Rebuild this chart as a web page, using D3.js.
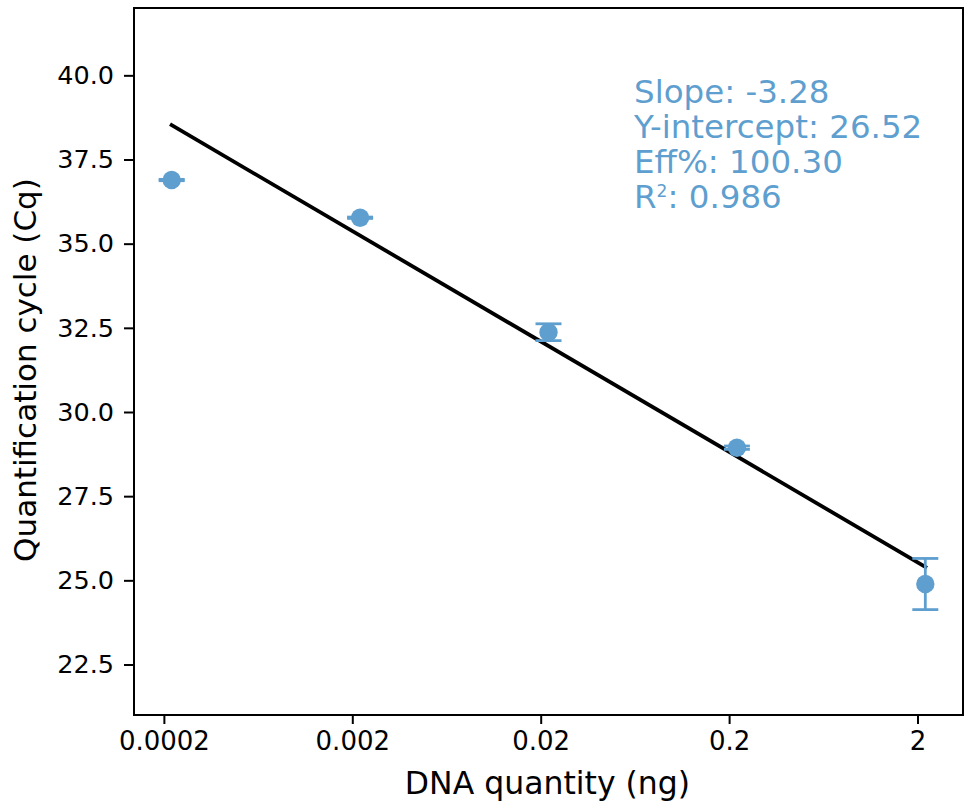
<!DOCTYPE html>
<html>
<head>
<meta charset="utf-8">
<script src="https://cdn.jsdelivr.net/npm/d3@7"></script>
<style>
  html, body { margin: 0; padding: 0; background: #fff; }
  svg { display: block; font-family: "DejaVu Sans", sans-serif; }
</style>
</head>
<body>
<svg id="chart" width="966" height="806"></svg>
<script>
// ---- data ----
const tickValues = [0.0002, 0.002, 0.02, 0.2, 2];
const tickLabels = ["0.0002", "0.002", "0.02", "0.2", "2"];
const quantities = [0.00022, 0.0022, 0.022, 0.22, 2.2];
const cqMeans = [36.89, 35.77, 32.37, 28.94, 24.89];
const cqErrors = [0.02, 0.02, 0.25, 0.05, 0.76];
const fitX = [0.00022, 2.2];
const fitY = [38.52, 25.40];
const yTicks = [22.5, 25.0, 27.5, 30.0, 32.5, 35.0, 37.5, 40.0];
const annotationLines = ["Slope: -3.28", "Y-intercept: 26.52", "Eff%: 100.30"];
const r2Value = "0.986";

// ---- layout ----
const pL = 134, pR = 963, pT = 8, pB = 715;
const blue = "#5f9fcf";
const svg = d3.select("#chart");

const x = d3.scaleLog()
  .domain([0.00022 / Math.pow(10, 0.2), 2.2 * Math.pow(10, 0.2)])
  .range([pL, pR]);
const y = d3.scaleLinear().domain([21, 42]).range([pB, pT]);

// fit line
svg.append("line")
  .attr("x1", x(fitX[0])).attr("y1", y(fitY[0]))
  .attr("x2", x(fitX[1])).attr("y2", y(fitY[1]))
  .attr("stroke", "#000").attr("stroke-width", 3.8)
  .attr("stroke-linecap", "square");

// error bars
const cap = 13;
const eg = svg.append("g").attr("stroke", blue).attr("stroke-width", 2.8);
quantities.forEach((q, i) => {
  const cx = x(q), y1 = y(cqMeans[i] + cqErrors[i]), y2 = y(cqMeans[i] - cqErrors[i]);
  eg.append("line").attr("x1", cx).attr("x2", cx).attr("y1", y1).attr("y2", y2);
  eg.append("line").attr("x1", cx - cap).attr("x2", cx + cap).attr("y1", y1).attr("y2", y1);
  eg.append("line").attr("x1", cx - cap).attr("x2", cx + cap).attr("y1", y2).attr("y2", y2);
});

// points
svg.append("g").selectAll("circle")
  .data(quantities)
  .join("circle")
  .attr("cx", d => x(d))
  .attr("cy", (d, i) => y(cqMeans[i]))
  .attr("r", 9.2)
  .attr("fill", blue);

// axes
const xAxis = d3.axisBottom(x)
  .tickValues(tickValues)
  .tickFormat((d, i) => tickLabels[i])
  .tickSize(9).tickPadding(8);
const gx = svg.append("g").attr("transform", `translate(0,${pB})`).call(xAxis);
gx.select(".domain").remove();
gx.selectAll(".tick line").attr("stroke-width", 2);
gx.selectAll(".tick text").attr("font-size", 26).attr("font-family", "DejaVu Sans").attr("fill", "#000");

const yAxis = d3.axisLeft(y)
  .tickValues(yTicks)
  .tickFormat(d3.format(".1f"))
  .tickSize(10).tickPadding(10);
const gy = svg.append("g").attr("transform", `translate(${pL},0)`).call(yAxis);
gy.select(".domain").remove();
gy.selectAll(".tick line").attr("stroke-width", 2);
gy.selectAll(".tick text").attr("font-size", 25.5).attr("font-family", "DejaVu Sans").attr("fill", "#000");

// frame
svg.append("rect")
  .attr("x", pL).attr("y", pT)
  .attr("width", pR - pL).attr("height", pB - pT)
  .attr("fill", "none").attr("stroke", "#000").attr("stroke-width", 2);

// axis labels
svg.append("text")
  .attr("x", (pL + pR) / 2 - 1).attr("y", 794)
  .attr("text-anchor", "middle")
  .attr("font-size", 31.5)
  .text("DNA quantity (ng)");

svg.append("text")
  .attr("transform", `translate(36,370) rotate(-90)`)
  .attr("text-anchor", "middle")
  .attr("font-size", 31)
  .text("Quantification cycle (Cq)");

// annotation (one multi-line text block)
const ann = svg.append("text")
  .attr("fill", blue).attr("font-size", 32.5)
  .attr("x", 634).attr("y", 103);
annotationLines.forEach((t, i) => {
  ann.append("tspan").attr("x", 634).attr("dy", i === 0 ? 0 : 35).text(t);
});
ann.append("tspan").attr("x", 634).attr("dy", 35).text("R");
ann.append("tspan").attr("font-size", 17).attr("dy", -11).text("2");
ann.append("tspan").attr("dy", 11).text(": " + r2Value);
</script>
</body>
</html>
